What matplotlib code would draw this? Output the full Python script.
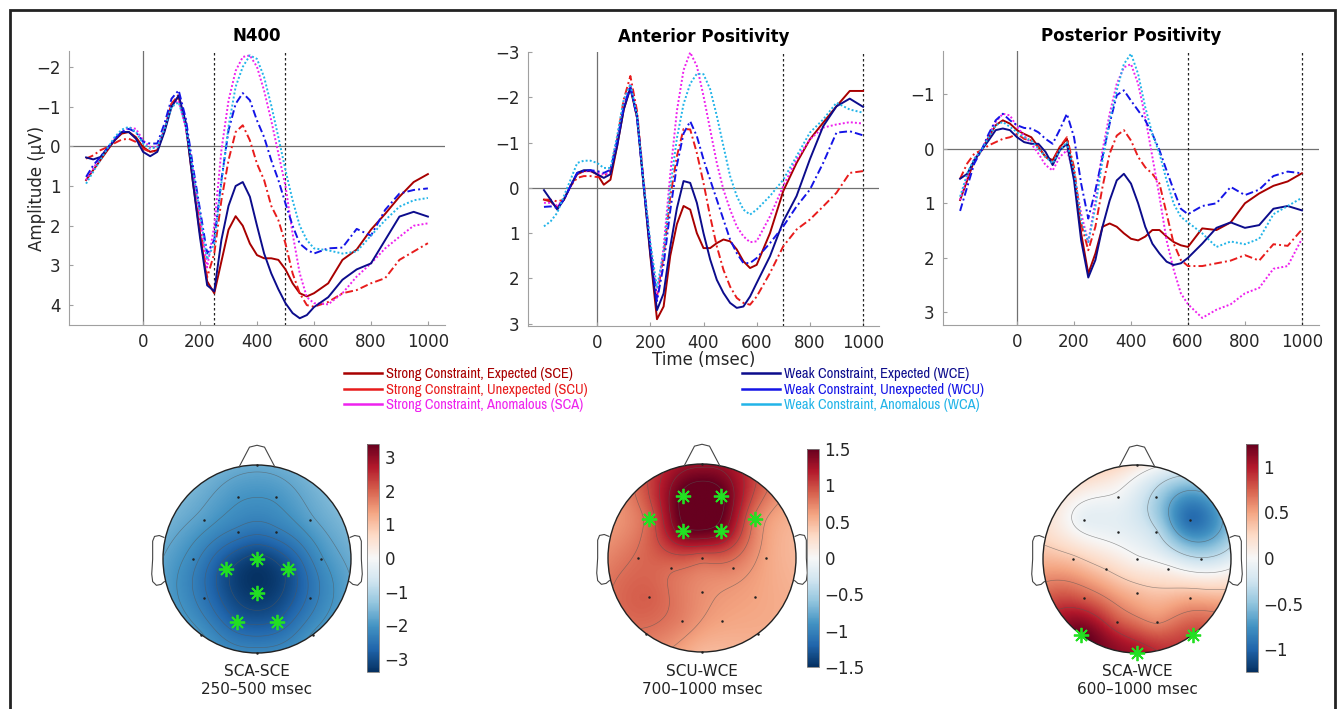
import numpy as np
import matplotlib
matplotlib.use("Agg")
import matplotlib.pyplot as plt
from matplotlib import font_manager
from matplotlib.lines import Line2D
from matplotlib.patches import Circle, Rectangle
from matplotlib.ticker import FuncFormatter

plt.rcParams["font.family"] = ["DejaVu Sans"]

# ---------------------------------------------------------------- ERP data
TIME = [-200, -175, -150, -125, -100, -75, -50, -25, 0, 25, 50, 75, 100, 125,
        150, 175, 200, 225, 250, 275, 300, 325, 350, 375, 400, 425, 450, 475,
        500, 525, 550, 575, 600, 650, 700, 750, 800, 850, 900, 950, 1000]

CONDITIONS = ["SCE", "SCU", "SCA", "WCE", "WCU", "WCA"]
LABELS = [
    "Strong Constraint, Expected (SCE)",
    "Strong Constraint, Unexpected (SCU)",
    "Strong Constraint, Anomalous (SCA)",
    "Weak Constraint, Expected (WCE)",
    "Weak Constraint, Unexpected (WCU)",
    "Weak Constraint, Anomalous (WCA)",
]
COLORS = ["#a80000", "#e81c1c", "#ee22ee", "#0c0c8c", "#1414e6", "#22b4e8"]
STYLES = ["-", (0, (4, 1.6, 1, 1.6)), (0, (1, 1.1)),
          "-", (0, (4, 1.6, 1, 1.6)), (0, (1, 1.1))]

N400 = {
    "SCE": [0.85, 0.6, 0.35, 0.1, -0.15, -0.32, -0.36, -0.23, 0.02, 0.14, 0.1, -0.4, -1.07, -1.24,
            -0.55, 0.9, 2.2, 3.4, 3.7, 2.9, 2.1, 1.76, 2.0, 2.45, 2.74, 2.82, 2.82, 2.86,
            3.1, 3.45, 3.7, 3.78, 3.7, 3.45, 2.86, 2.6, 2.1, 1.7, 1.27, 0.9, 0.7],
    "SCU": [0.31, 0.23, 0.1, 0.02, -0.08, -0.17, -0.19, -0.11, 0.06, 0.14, 0.1, -0.4, -1.07, -1.3,
            -0.5, 0.75, 2.0, 3.3, 2.7, 1.36, 0.35, -0.36, -0.53, -0.15, 0.44, 0.85, 1.5, 1.86,
            2.45, 3.2, 3.7, 4.0, 4.04, 3.92, 3.7, 3.62, 3.45, 3.32, 2.86, 2.65, 2.44],
    "SCA": [0.85, 0.56, 0.27, 0.05, -0.19, -0.36, -0.47, -0.44, -0.15, 0.02, 0.02, -0.44, -1.03, -1.15,
            -0.45, 0.6, 1.8, 3.05, 2.0, 0.1, -1.15, -1.9, -2.25, -2.29, -2.0, -1.4, -0.65, 0.18,
            1.0, 2.2, 3.2, 3.8, 3.95, 3.98, 3.7, 3.28, 2.95, 2.57, 2.28, 2.0, 1.94],
    "WCE": [0.28, 0.33, 0.27, 0.05, -0.15, -0.36, -0.36, -0.19, 0.14, 0.25, 0.14, -0.36, -0.99, -1.28,
            -0.6, 0.9, 2.3, 3.5, 3.65, 2.36, 1.5, 1.0, 0.9, 1.27, 2.0, 2.7, 3.2, 3.6,
            3.95, 4.2, 4.33, 4.25, 4.05, 3.8, 3.36, 3.1, 2.95, 2.36, 1.77, 1.65, 1.77],
    "WCU": [0.77, 0.48, 0.27, 0.05, -0.19, -0.36, -0.44, -0.36, -0.11, -0.07, -0.07, -0.57, -1.2, -1.41,
            -0.7, 0.5, 1.6, 2.7, 2.36, 0.85, -0.4, -1.07, -1.34, -1.16, -0.65, -0.23, 0.35, 0.85,
            1.44, 2.0, 2.45, 2.6, 2.7, 2.57, 2.55, 2.08, 2.25, 1.6, 1.19, 1.1, 1.06],
    "WCA": [0.94, 0.64, 0.35, 0.05, -0.23, -0.42, -0.49, -0.36, -0.07, 0.06, 0.02, -0.44, -0.99, -1.11,
            -0.5, 0.6, 1.7, 2.85, 2.45, 0.94, -0.5, -1.5, -2.0, -2.29, -2.2, -1.74, -1.03, -0.23,
            0.6, 1.36, 2.0, 2.36, 2.57, 2.62, 2.7, 2.65, 2.25, 1.86, 1.52, 1.36, 1.3],
}

ANTERIOR = {
    "SCE": [0.26, 0.3, 0.44, 0.26, -0.04, -0.3, -0.37, -0.37, -0.3, -0.07, -0.18, -0.92, -1.73, -2.21,
            -1.55, -0.05, 1.5, 2.9, 2.62, 1.5, 0.8, 0.4, 0.48, 1.0, 1.33, 1.33, 1.22, 1.14,
            1.18, 1.36, 1.62, 1.77, 1.7, 1.0, 0.07, -0.55, -1.07, -1.44, -1.8, -2.14, -2.14],
    "SCU": [0.26, 0.26, 0.3, 0.26, -0.04, -0.22, -0.26, -0.26, -0.24, -0.26, -0.37, -1.07, -1.95, -2.47,
            -1.7, -0.15, 1.3, 2.4, 1.5, 0.2, -0.7, -1.3, -1.29, -0.77, -0.11, 0.63, 1.29, 1.81,
            2.18, 2.43, 2.54, 2.58, 2.4, 1.88, 1.29, 0.92, 0.7, 0.41, 0.11, -0.33, -0.37],
    "SCA": [0.33, 0.33, 0.39, 0.26, -0.04, -0.33, -0.37, -0.37, -0.33, -0.3, -0.33, -1.07, -1.8, -2.29,
            -1.6, -0.1, 1.3, 2.45, 1.3, -0.3, -1.7, -2.6, -2.99, -2.69, -2.03, -1.29, -0.55, 0.04,
            0.48, 0.85, 1.07, 1.2, 1.18, 0.63, -0.04, -0.63, -1.07, -1.33, -1.4, -1.45, -1.42],
    "WCE": [0.05, 0.26, 0.48, 0.26, -0.04, -0.33, -0.39, -0.39, -0.3, -0.22, -0.3, -0.92, -1.73, -2.21,
            -1.6, -0.05, 1.45, 2.7, 2.33, 1.3, 0.45, -0.15, -0.11, 0.33, 1.0, 1.58, 2.03, 2.32,
            2.54, 2.65, 2.62, 2.4, 2.1, 1.51, 0.74, 0.18, -0.63, -1.36, -1.8, -1.97, -1.79],
    "WCU": [0.42, 0.41, 0.44, 0.26, -0.04, -0.33, -0.37, -0.39, -0.37, -0.33, -0.4, -1.04, -1.8, -2.23,
            -1.55, -0.05, 1.3, 2.5, 1.7, 0.5, -0.5, -1.2, -1.47, -1.14, -0.63, -0.18, 0.26, 0.7,
            1.14, 1.44, 1.66, 1.66, 1.55, 1.22, 0.85, 0.41, 0.04, -0.55, -1.22, -1.25, -1.16],
    "WCA": [0.85, 0.74, 0.55, 0.18, -0.18, -0.55, -0.6, -0.6, -0.55, -0.44, -0.44, -1.14, -1.95, -2.29,
            -1.6, -0.1, 1.2, 2.2, 1.4, 0.0, -1.1, -1.85, -2.3, -2.52, -2.51, -2.18, -1.59, -0.92,
            -0.26, 0.18, 0.48, 0.59, 0.48, 0.18, -0.18, -0.7, -1.22, -1.51, -1.88, -1.73, -1.66],
}

POSTERIOR = {
    "SCE": [0.94, 0.58, 0.21, 0.03, -0.21, -0.43, -0.52, -0.46, -0.34, -0.27, -0.21, -0.03, 0.15, 0.21,
            -0.03, -0.18, 0.46, 1.55, 2.29, 1.92, 1.43, 1.37, 1.43, 1.55, 1.65, 1.68, 1.61, 1.49,
            1.49, 1.61, 1.71, 1.77, 1.8, 1.46, 1.49, 1.35, 1.0, 0.82, 0.68, 0.6, 0.45],
    "SCU": [0.55, 0.27, 0.09, 0.03, -0.06, -0.12, -0.18, -0.21, -0.27, -0.18, -0.15, -0.03, 0.15, 0.24,
            -0.03, -0.21, 0.34, 1.37, 1.86, 1.43, 0.7, 0.09, -0.24, -0.34, -0.15, 0.15, 0.34, 0.46,
            0.64, 1.19, 1.74, 2.04, 2.15, 2.15, 2.1, 2.05, 1.95, 2.05, 1.75, 1.78, 1.48],
    "SCA": [0.94, 0.52, 0.18, 0.03, -0.24, -0.49, -0.64, -0.61, -0.4, -0.24, -0.09, 0.09, 0.3, 0.4,
            0.15, 0.03, 0.46, 1.19, 1.71, 0.95, 0.03, -0.64, -1.19, -1.49, -1.55, -1.19, -0.58, 0.15,
            0.88, 1.68, 2.22, 2.65, 2.85, 3.1, 2.95, 2.85, 2.65, 2.55, 2.2, 2.15, 1.65],
    "WCE": [0.55, 0.46, 0.21, 0.03, -0.15, -0.34, -0.37, -0.34, -0.21, -0.12, -0.09, -0.09, 0.06, 0.3,
            0.03, -0.09, 0.58, 1.68, 2.36, 2.04, 1.43, 0.95, 0.58, 0.46, 0.64, 1.0, 1.43, 1.74,
            1.92, 2.07, 2.13, 2.1, 2.0, 1.74, 1.45, 1.35, 1.45, 1.4, 1.1, 1.05, 1.13],
    "WCU": [1.14, 0.7, 0.27, 0.03, -0.27, -0.52, -0.64, -0.52, -0.43, -0.38, -0.37, -0.3, -0.18, -0.09,
            -0.35, -0.64, -0.21, 0.64, 1.28, 0.76, 0.15, -0.46, -0.98, -1.07, -0.88, -0.7, -0.52, -0.27,
            0.03, 0.4, 0.76, 1.1, 1.2, 1.05, 1.0, 0.7, 0.85, 0.75, 0.5, 0.42, 0.45],
    "WCA": [0.88, 0.46, 0.18, 0.03, -0.21, -0.43, -0.49, -0.4, -0.3, -0.21, -0.15, 0.0, 0.15, 0.27,
            0.03, -0.12, 0.4, 1.31, 1.71, 1.07, 0.21, -0.52, -1.07, -1.55, -1.74, -1.37, -0.76, -0.27,
            0.09, 0.58, 1.01, 1.25, 1.35, 1.55, 1.8, 1.7, 1.75, 1.65, 1.2, 1.05, 0.9],
}

PANEL_TITLES = ["N400", "Anterior Positivity", "Posterior Positivity"]
PANEL_WINDOWS = [(250, 500), (700, 1000), (600, 1000)]
PANEL_YLIMS = [(4.5, -2.4), (3.05, -3.0), (3.23, -1.79)]
PANEL_YTICKS = [[-2, -1, 0, 1, 2, 3, 4], [-3, -2, -1, 0, 1, 2, 3], [-1, 0, 1, 2, 3]]
X_TICKS = [0, 200, 400, 600, 800, 1000]

# ---------------------------------------------------------------- topography data
ELEC_X = [0.0, -0.2, 0.2, -0.56, 0.56, -0.2, 0.2, -0.68, 0.0, 0.68,
          -0.33, 0.33, 0.0, -0.56, 0.56, -0.21, 0.21, -0.6, 0.0, 0.6]
ELEC_Y = [1.0, 0.66, 0.66, 0.42, 0.42, 0.29, 0.29, 0.0, 0.0, 0.0,
          -0.11, -0.11, -0.36, -0.41, -0.41, -0.67, -0.67, -0.81, -1.0, -0.81]

MAP_SCA_SCE = [-1.7, -2.0, -2.0, -1.9, -1.85, -2.4, -2.4, -2.2, -3.2, -2.1,
               -3.0, -3.0, -3.3, -2.5, -2.5, -2.8, -2.8, -2.0, -2.2, -2.0]
MAP_SCU_WCE = [1.3, 1.55, 1.55, 0.9, 0.8, 1.45, 1.4, 0.85, 0.9, 0.6,
               0.85, 0.75, 0.7, 0.9, 0.6, 0.75, 0.6, 0.8, 0.5, 0.55]
MAP_SCA_WCE = [0.15, -0.05, -0.4, -0.1, -0.95, -0.1, -0.3, 0.35, 0.02, -0.3,
               0.3, 0.05, 0.4, 0.75, 0.45, 0.8, 0.6, 1.25, 1.05, 0.85]

STARS_SCA_SCE = [8, 10, 11, 12, 15, 16]
STARS_SCU_WCE = [1, 2, 3, 4, 5, 6]
STARS_SCA_WCE = [17, 18, 19]

MAP_NAMES = ["SCA-SCE\n250\u2013500 msec", "SCU-WCE\n700\u20131000 msec", "SCA-WCE\n600\u20131000 msec"]
MAP_LIMITS = [3.4, 1.5, 1.25]
MAP_TICKS = [[-3, -2, -1, 0, 1, 2, 3], [-1.5, -1, -0.5, 0, 0.5, 1, 1.5], [-1, -0.5, 0, 0.5, 1]]

W, H = 1337, 709


def px_axes(fig, left, top, width, height):
    """Add axes from pixel box (top-left origin)."""
    return fig.add_axes([left / W, 1 - (top + height) / H, width / W, height / H])


def biharmonic(x, y, v, gx, gy):
    pts = np.asarray(x) + 1j * np.asarray(y)

    def green(d):
        d = np.maximum(d, 1e-12)
        return np.where(d > 1e-9, d ** 2 * (np.log(d) - 1), 0.0)

    wts = np.linalg.solve(green(np.abs(pts[:, None] - pts[None, :])), np.asarray(v, float))
    grid = gx + 1j * gy
    return green(np.abs(grid[..., None] - pts)) @ wts


def draw_head(ax, values, stars, vmax):
    g = np.linspace(-1, 1, 241)
    gx, gy = np.meshgrid(g, g)
    z = biharmonic(ELEC_X, ELEC_Y, values, gx, gy)
    clip = Circle((0, 0), 1.0, transform=ax.transData)
    im = ax.imshow(z, extent=(-1, 1, -1, 1), origin="lower", cmap="RdBu_r",
                   vmin=-vmax, vmax=vmax, interpolation="bilinear")
    im.set_clip_path(clip)
    inside = z[gx ** 2 + gy ** 2 <= 1]
    levels = np.linspace(inside.min(), inside.max(), 8)[1:-1]
    cs = ax.contour(gx, gy, z, levels=levels, colors="#555555", linewidths=0.45, alpha=0.6,
                    negative_linestyles="solid")
    cs.set_clip_path(clip)

    ax.add_patch(Circle((0, 0), 1.0, fill=False, lw=1.0, ec="#222222"))
    # nose and ears
    ax.plot([-0.19, -0.08, 0, 0.08, 0.19], [0.98, 1.19, 1.21, 1.19, 0.98], color="#444444", lw=0.8)
    ear_x = np.array([0.99, 1.04, 1.09, 1.11, 1.11, 1.12, 1.11, 1.07, 1.02, 0.985])
    ear_y = np.array([0.23, 0.25, 0.24, 0.19, 0.0, -0.16, -0.24, -0.28, -0.27, -0.24])
    ax.plot(ear_x, ear_y, color="#444444", lw=0.8)
    ax.plot(-ear_x, ear_y, color="#444444", lw=0.8)

    others = [i for i in range(len(ELEC_X)) if i not in stars]
    ax.plot([ELEC_X[i] for i in others], [ELEC_Y[i] for i in others], ".", ms=1.6,
            color="#222222", ls="none")
    ax.plot([ELEC_X[i] for i in stars], [ELEC_Y[i] for i in stars], marker=(8, 2, 0),
            ms=11, mew=1.3, color="#22e022", ls="none", clip_on=False)
    ax.set_xlim(-1.25, 1.25)
    ax.set_ylim(-1.25, 1.25)
    ax.set_aspect("equal")
    ax.axis("off")
    return im


fig = plt.figure(figsize=(W / 100, H / 100), dpi=100)

# outer frame
fig.add_artist(Rectangle((10 / W, -0.1), (1335 - 10) / W, 1.1 - 10 / H,
                         transform=fig.transFigure, fill=False, lw=2.0, ec="#222222"))

erp_boxes = [(69, 51, 376, 274), (528, 52, 351, 274), (943, 51, 376, 274)]
for box, data, title, win, ylim, yticks in zip(erp_boxes, [N400, ANTERIOR, POSTERIOR],
                                              PANEL_TITLES, PANEL_WINDOWS, PANEL_YLIMS,
                                              PANEL_YTICKS):
    ax = px_axes(fig, *box)
    ax.axhline(0, color="#707070", lw=0.9, zorder=1)
    ax.axvline(0, color="#707070", lw=0.9, zorder=1)
    for cond, col, ls in zip(CONDITIONS, COLORS, STYLES):
        ax.plot(TIME, data[cond], color=col, ls=ls, lw=1.4, zorder=3)
    for w in win:
        ax.axvline(w, color="#222222", ls=(0, (2, 2)), lw=0.9, zorder=2)
    ax.set_xlim(-260, 1060)
    ax.set_ylim(*ylim)
    ax.set_xticks(X_TICKS)
    ax.set_yticks(yticks)
    for s in ["top", "right"]:
        ax.spines[s].set_visible(False)
    for s in ["left", "bottom"]:
        ax.spines[s].set_color("#a0a0a0")
        ax.spines[s].set_linewidth(0.8)
    ax.tick_params(direction="in", length=3, color="#a0a0a0", labelcolor="#262626",
                   labelsize=12, pad=6)
    ax.set_title(title, fontsize=12, fontweight="bold", pad=7)
    if title == "N400":
        ax.set_ylabel("Amplitude (\u00b5V)", fontsize=12, color="#262626", labelpad=-7)
    if title == "Anterior Positivity":
        ax.set_xlabel("Time (msec)", fontsize=12, color="#262626", labelpad=-1)

# legend
names = sorted(f.name for f in font_manager.fontManager.ttflist)
narrow = [n for n in names if "Narrow" in n or "Condensed" in n]
if narrow:
    leg_font = dict(family=narrow[0], size=10.5)
else:
    leg_font = dict(family="Liberation Sans", size=10)

handles = [Line2D([], [], color=c, lw=1.8) for c in COLORS]
for k, x0 in enumerate([344, 742]):
    fig.legend(handles[3 * k:3 * k + 3], LABELS[3 * k:3 * k + 3], loc="upper left",
               bbox_to_anchor=(x0 / W, 1 - 367 / H), frameon=False, prop=leg_font,
               borderpad=0, borderaxespad=0, handlelength=2.6, handletextpad=0.3,
               labelspacing=0.12, labelcolor=COLORS[3 * k:3 * k + 3])

# topographic maps
head_boxes = [(257, 559), (702, 558), (1137, 559)]
cbar_boxes = [(367, 444, 12, 228), (807, 449, 12, 218), (1246, 444, 12, 228)]
R = 94
fmt = FuncFormatter(lambda v, p: f"{v:g}".replace("-", "\u2212"))
for (cx, cy), cb_box, vals, stars, vmax, ticks, name in zip(
        head_boxes, cbar_boxes, [MAP_SCA_SCE, MAP_SCU_WCE, MAP_SCA_WCE],
        [STARS_SCA_SCE, STARS_SCU_WCE, STARS_SCA_WCE], MAP_LIMITS, MAP_TICKS, MAP_NAMES):
    hax = px_axes(fig, cx - 1.25 * R, cy - 1.25 * R, 2.5 * R, 2.5 * R)
    im = draw_head(hax, vals, stars, vmax)
    cax = px_axes(fig, *cb_box)
    cb = fig.colorbar(im, cax=cax, ticks=ticks, format=fmt)
    cb.outline.set_linewidth(0.6)
    cb.outline.set_edgecolor("#808080")
    cax.tick_params(length=0, labelsize=12, pad=4, labelcolor="#262626")
    fig.text(cx / W, 1 - 681 / H, name, ha="center", va="center", fontsize=11,
             color="#222222", linespacing=1.25)

fig.savefig("out.png", dpi=100)
